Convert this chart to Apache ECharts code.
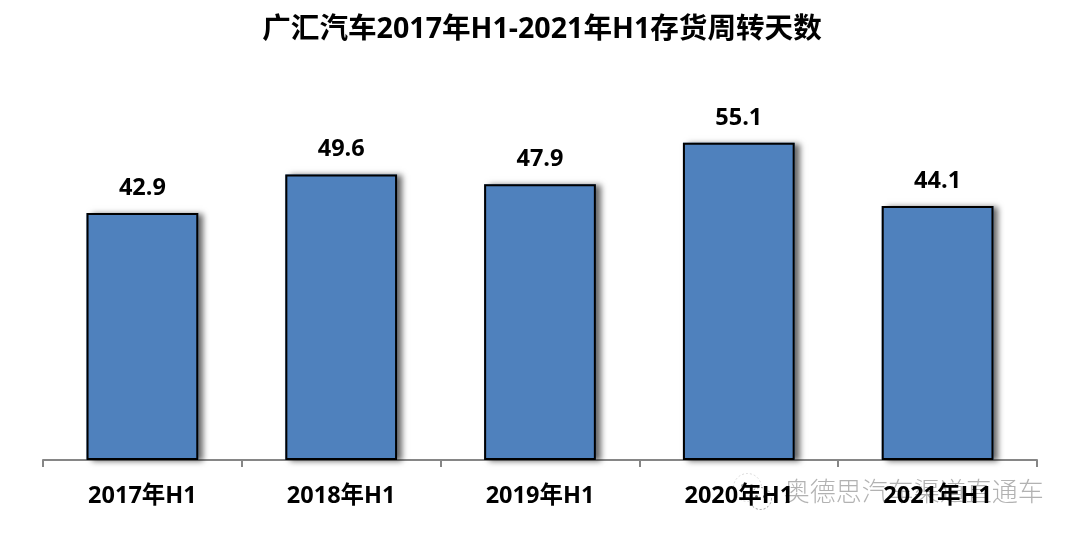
<!DOCTYPE html>
<html><head><meta charset="utf-8">
<style>html,body{margin:0;padding:0;background:#fff}#c{width:1080px;height:540px}</style>
<script src="https://cdn.jsdelivr.net/npm/echarts@6/dist/echarts.min.js"></script>
</head><body><div id="c"></div>
<script>
const titleText = '广汇汽车2017年H1-2021年H1存货周转天数';
const categories = ['2017年H1','2018年H1','2019年H1','2020年H1','2021年H1'];
const turnoverDays = [42.9,49.6,47.9,55.1,44.1];
const watermarkText = '奥德思汽车渠道直通车';
const FONT = '"Open Sans","Noto Sans CJK SC",sans-serif';
const chart = echarts.init(document.getElementById('c'),null,{renderer:'canvas'});
chart.setOption({
  animation:false,
  backgroundColor:'#fff',
  title:{text:titleText,left:537,top:11,textAlign:'center',
    textStyle:{fontFamily:FONT,fontSize:28.6,fontWeight:'bold',color:'#000'}},
  grid:{left:43,right:43,top:57,bottom:80},
  xAxis:{type:'category',data:categories,
    axisLine:{lineStyle:{color:'#868686',width:2}},
    axisTick:{show:true,alignWithLabel:false,length:7,lineStyle:{color:'#868686',width:2}},
    axisLabel:{margin:25,fontFamily:FONT,fontSize:23.5,fontWeight:'bold',color:'#000'}},
  yAxis:{type:'value',min:0,max:70,show:false,splitLine:{show:false}},
  series:[
    {type:'bar',data:turnoverDays,barWidth:'56.2%',barGap:'-100%',clip:true,silent:true,
      itemStyle:{color:'#4f81bd',shadowColor:'rgba(0,0,0,0.6)',shadowBlur:6,shadowOffsetX:5,shadowOffsetY:1}},
    {type:'bar',data:turnoverDays,barWidth:'56.2%',barGap:'-100%',
      itemStyle:{color:'#4f81bd',borderColor:'#000',borderWidth:2},
      label:{show:true,position:'top',distance:13,fontFamily:FONT,fontSize:23.5,fontWeight:'bold',color:'#000',
        formatter:p=>p.value.toFixed(1)}}
  ],
  graphic:[
    {type:'group',left:733,top:473,silent:true,children:[
      {type:'circle',shape:{cx:15,cy:13,r:14},style:{fill:'rgba(255,255,255,0.8)',stroke:'rgba(205,205,205,0.7)',lineWidth:1,lineDash:[2,2]}},
      {type:'circle',shape:{cx:28,cy:24,r:11},style:{fill:'rgba(255,255,255,0.95)',stroke:'rgba(130,130,130,0.8)',lineWidth:1,lineDash:[2,2]}},
      {type:'circle',shape:{cx:10,cy:11,r:1.5},style:{fill:'#aaa'}},
      {type:'circle',shape:{cx:19,cy:11,r:1.5},style:{fill:'#aaa'}},
      {type:'circle',shape:{cx:24,cy:22,r:1.5},style:{fill:'#666'}},
      {type:'circle',shape:{cx:32,cy:22,r:1.5},style:{fill:'#666'}}
    ]},
    {type:'text',left:783,top:477,silent:true,style:{text:watermarkText,fontFamily:'"Noto Sans CJK SC",sans-serif',fontSize:26,fontWeight:300,
      fill:'rgba(170,170,170,0.9)',stroke:'rgba(255,255,255,0.7)',lineWidth:1.5}}
  ]
});
</script></body></html>
